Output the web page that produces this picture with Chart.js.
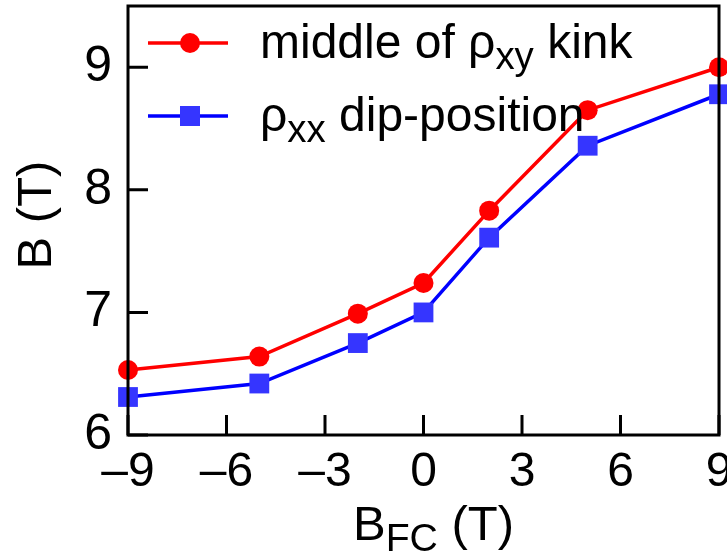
<!DOCTYPE html>
<html>
<head>
<meta charset="utf-8">
<script src="https://cdn.jsdelivr.net/npm/chart.js@4/dist/chart.umd.min.js"></script>
<style>
  html, body { margin: 0; padding: 0; overflow: hidden; background: #fff; }
  #wrap { width: 745px; height: 552px; }
</style>
</head>
<body>
<div id="wrap"><canvas id="chart" width="745" height="552"></canvas></div>
<script>
// field-cooling field (T)
const fieldFC = [-9, -5, -2, 0, 2, 5, 9];
// middle of rho_xy kink (T)
const kinkB = [6.53, 6.64, 6.99, 7.24, 7.83, 8.65, 9.0];
// rho_xx dip position (T)
const dipB = [6.31, 6.42, 6.75, 7.0, 7.61, 8.36, 8.78];

const xTickValues = [-9, -6, -3, 0, 3, 6, 9];
const yTickValues = [6, 7, 8, 9];

const FONT = '"Liberation Sans", Arial, Helvetica, sans-serif';
const RED = '#ff0000';
const BLUE = '#0000ff';
const BLUE_FILL = '#3535ff';

function toPoints(xs, ys) {
  return xs.map((x, i) => ({ x, y: ys[i] }));
}

// draw a run of text pieces, some subscripted
function drawRich(ctx, x, y, parts, size) {
  let cx = x;
  parts.forEach(p => {
    const s = p.sub ? size * 0.8 : size;
    ctx.font = `${s}px ${FONT}`;
    ctx.fillText(p.t, cx, p.sub ? y + size * 0.22 : y);
    cx += ctx.measureText(p.t).width;
  });
}

function zeroPadding(scale) {
  scale.paddingTop = 0;
  scale.paddingBottom = 0;
  scale.paddingLeft = 0;
  scale.paddingRight = 0;
}

const framePlugin = {
  id: 'frame',
  afterDraw(chart) {
    const { ctx, chartArea: a, scales } = chart;
    ctx.save();
    ctx.strokeStyle = '#000';
    ctx.lineWidth = 3;
    ctx.strokeRect(a.left, a.top, a.right - a.left, a.bottom - a.top);

    // inward ticks
    ctx.beginPath();
    xTickValues.forEach(v => {
      const px = scales.x.getPixelForValue(v);
      ctx.moveTo(px, a.bottom);
      ctx.lineTo(px, a.bottom - 20);
    });
    yTickValues.forEach(v => {
      const py = scales.y.getPixelForValue(v);
      ctx.moveTo(a.left, py);
      ctx.lineTo(a.left + 20, py);
    });
    ctx.stroke();

    // legend
    const rows = [
      { y: 43, color: RED, fill: RED, shape: 'circle',
        parts: [{ t: 'middle of ρ' }, { t: 'xy', sub: true }, { t: ' kink' }] },
      { y: 116, color: BLUE, fill: BLUE_FILL, shape: 'rect',
        parts: [{ t: 'ρ' }, { t: 'xx', sub: true }, { t: ' dip-position' }] }
    ];
    rows.forEach(r => {
      ctx.strokeStyle = r.color;
      ctx.lineWidth = 3.5;
      ctx.beginPath();
      ctx.moveTo(148, r.y);
      ctx.lineTo(228, r.y);
      ctx.stroke();
      ctx.fillStyle = r.fill;
      ctx.beginPath();
      if (r.shape === 'circle') ctx.arc(190, r.y, 10, 0, Math.PI * 2);
      else ctx.rect(180, r.y - 10, 20, 20);
      ctx.fill();
      ctx.fillStyle = '#000';
      ctx.textBaseline = 'alphabetic';
      drawRich(ctx, 260, r.y + 15, r.parts, 48);
    });

    // axis titles
    ctx.fillStyle = '#000';
    ctx.textAlign = 'left';
    drawRich(ctx, 353, 540, [{ t: 'B' }, { t: 'FC', sub: true }, { t: ' (T)' }], 49);
    ctx.translate(51, 215);
    ctx.rotate(-Math.PI / 2);
    ctx.textAlign = 'center';
    ctx.font = `49px ${FONT}`;
    ctx.fillText('B (T)', 0, 0);
    ctx.restore();
  }
};

new Chart(document.getElementById('chart'), {
  type: 'line',
  data: {
    datasets: [
      {
        label: 'middle of ρxy kink',
        data: toPoints(fieldFC, kinkB),
        borderColor: RED,
        backgroundColor: RED,
        borderWidth: 3.5,
        pointStyle: 'circle',
        pointRadius: 10,
        pointBorderWidth: 0,
        tension: 0
      },
      {
        label: 'ρxx dip-position',
        data: toPoints(fieldFC, dipB),
        borderColor: BLUE,
        backgroundColor: BLUE_FILL,
        borderWidth: 3.5,
        pointStyle: 'rect',
        pointRadius: 14,
        pointBorderWidth: 0,
        tension: 0
      }
    ]
  },
  options: {
    responsive: false,
    animation: false,
    clip: false,
    layout: { autoPadding: false, padding: { top: 6, right: 26, left: 0, bottom: 0 } },
    plugins: { legend: { display: false }, tooltip: { enabled: false } },
    scales: {
      x: {
        type: 'linear',
        min: -9,
        max: 9,
        afterBuildTicks(scale) { scale.ticks = xTickValues.map(v => ({ value: v })); },
        afterFit(scale) { scale.height = 117; zeroPadding(scale); },
        ticks: {
          padding: 9,
          color: '#000',
          font: { family: FONT, size: 48 },
          callback: v => (v < 0 ? '–' + Math.abs(v) : String(v))
        },
        grid: { display: false, drawTicks: false },
        border: { display: false }
      },
      y: {
        type: 'linear',
        min: 6,
        max: 9.5,
        afterBuildTicks(scale) { scale.ticks = yTickValues.map(v => ({ value: v })); },
        afterFit(scale) { scale.width = 128; zeroPadding(scale); },
        ticks: {
          padding: 16,
          color: '#000',
          font: { family: FONT, size: 50 },
          callback: v => String(v)
        },
        grid: { display: false, drawTicks: false },
        border: { display: false }
      }
    }
  },
  plugins: [framePlugin]
});
</script>
</body>
</html>
